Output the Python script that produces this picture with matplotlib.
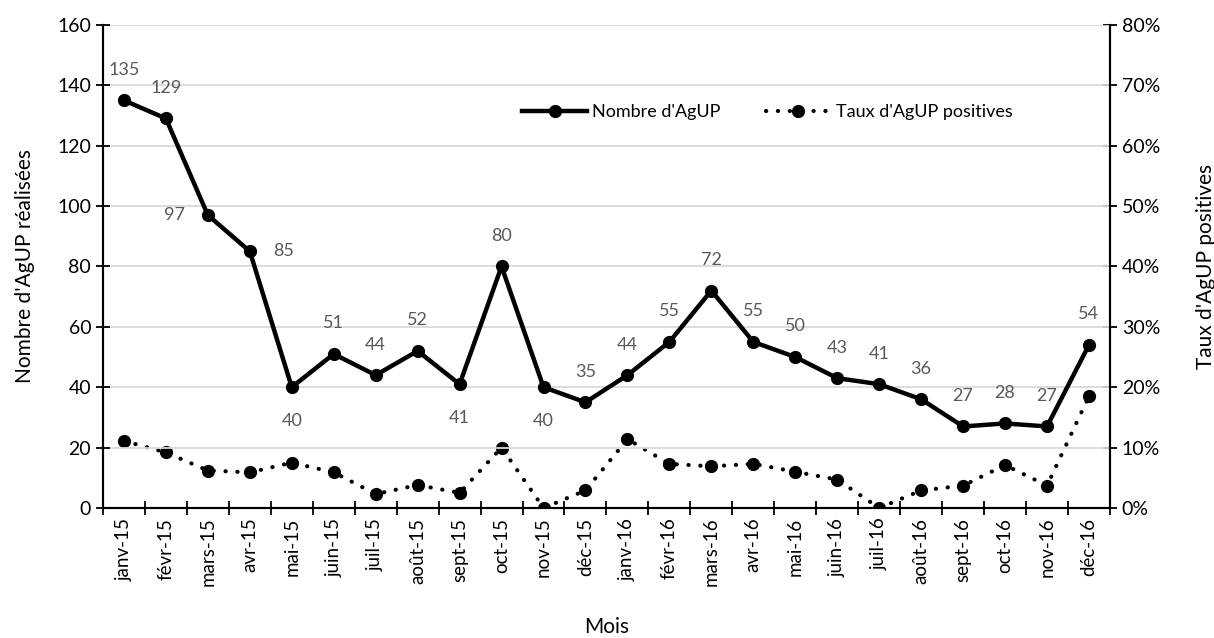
import matplotlib
matplotlib.use("Agg")
import matplotlib.pyplot as plt
from matplotlib.ticker import FuncFormatter, MultipleLocator

plt.rcParams['font.family'] = ['Lato', 'DejaVu Sans']

months = ["janv-15", "févr-15", "mars-15", "avr-15", "mai-15", "juin-15", "juil-15",
          "août-15", "sept-15", "oct-15", "nov-15", "déc-15",
          "janv-16", "févr-16", "mars-16", "avr-16", "mai-16", "juin-16", "juil-16",
          "août-16", "sept-16", "oct-16", "nov-16", "déc-16"]
counts = [135, 129, 97, 85, 40, 51, 44, 52, 41, 80, 40, 35,
          44, 55, 72, 55, 50, 43, 41, 36, 27, 28, 27, 54]
rates = [11.1, 9.2, 6.2, 5.9, 7.5, 5.9, 2.3, 3.8, 2.5, 10.0, 0.0, 2.9,
         11.4, 7.3, 6.9, 7.3, 6.0, 4.7, 0.0, 2.9, 3.7, 7.1, 3.7, 18.5]
label_pos = ["above", "above", "left", "right", "below", "above", "above", "above",
             "below", "above", "below", "above",
             "above", "above", "above", "above", "above", "above", "above", "above",
             "above", "above", "above", "above"]

fig = plt.figure(figsize=(12.14, 6.38), dpi=100)
ax = fig.add_axes([0.0848, 0.2038, 0.9143 - 0.0848, 0.961 - 0.2038])
ax2 = ax.twinx()

x = list(range(len(months)))
ax.set_zorder(ax2.get_zorder() + 1)
ax.patch.set_visible(False)

l1, = ax.plot(x, counts, color='black', lw=3.2, marker='o', ms=8.5,
              solid_joinstyle='round', label="Nombre d'AgUP")
l2, = ax2.plot(x, rates, color='black', lw=3.0, ls=(0, (0.05, 2.8)),
               dash_capstyle='round', marker='o', ms=8.5,
               label="Taux d'AgUP positives")

offsets = {"above": (0, 22), "below": (0, -24), "left": (-24, 0), "right": (24, 0)}
for xi, v, p in zip(x, counts, label_pos):
    ax.annotate(str(v), (xi, v), xytext=offsets[p], textcoords='offset points',
                ha='center', va='center', fontsize=13, color='#595959')

ax.set_ylim(0, 160)
ax.yaxis.set_major_locator(MultipleLocator(20))
ax2.set_ylim(0, 80)
ax2.yaxis.set_major_locator(MultipleLocator(10))
ax2.yaxis.set_major_formatter(FuncFormatter(lambda v, p: f"{v:.0f}%"))
ax.set_xlim(-0.5, len(months) - 0.5)

ax.set_xticks([i - 0.5 for i in range(len(months) + 1)], minor=False)
ax.set_xticklabels([])
ax.set_xticks(x, minor=True)
ax.set_xticklabels(months, minor=True, rotation=90, fontsize=13.5)
ax.tick_params(axis='x', which='minor', length=0, pad=7)
ax.tick_params(axis='x', which='major', direction='inout', length=10, width=1.3)
ax.tick_params(axis='y', direction='inout', length=10, width=1.3, labelsize=14)
ax2.tick_params(axis='y', direction='inout', length=10, width=1.3, labelsize=14)

ax.grid(axis='y', color='#d9d9d9', lw=1.3)
ax.set_axisbelow(True)
for a in (ax, ax2):
    a.spines['top'].set_visible(False)
    for s in ('left', 'right', 'bottom'):
        a.spines[s].set_linewidth(1.5)

ax.set_ylabel("Nombre d'AgUP réalisées", fontsize=15, labelpad=16)
ax2.set_ylabel("Taux d'AgUP positives", fontsize=15, labelpad=26)
ax.set_xlabel("Mois", fontsize=15, labelpad=22)

leg = ax.legend(handles=[l1, l2], loc='upper left', bbox_to_anchor=(0.40, 0.87),
                ncol=2, frameon=False, fontsize=13, handlelength=3.6,
                columnspacing=2.5, handletextpad=0.3)

fig.savefig("out.png", dpi=100)
